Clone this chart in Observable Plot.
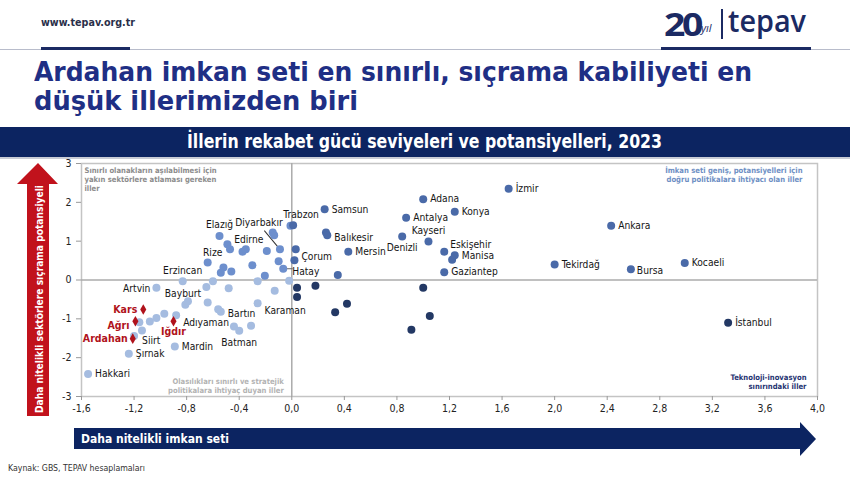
<!DOCTYPE html>
<html><head><meta charset="utf-8">
<script src="https://cdn.jsdelivr.net/npm/d3@7"></script>
<script src="https://cdn.jsdelivr.net/npm/@observablehq/plot@0.6"></script>
<style>
body{margin:0;width:850px;height:479px;position:relative;overflow:hidden;background:#fff;font-family:"DejaVu Sans Condensed","DejaVu Sans",sans-serif;}
.abs{position:absolute;white-space:nowrap;}
#chart{position:absolute;left:0;top:155px;}
#deco{position:absolute;left:0;top:0;pointer-events:none;}
</style></head><body>
<div class="abs" style="left:41px;top:17px;font-size:10px;font-weight:bold;color:#2a2f4a;" data-w="94">www.tepav.org.tr</div>
<div class="abs" style="left:0;top:49px;width:850px;height:1px;background:#b8bccb;"></div>
<div class="abs" style="left:41px;top:47px;width:89px;height:3px;background:#1b2a63;"></div>
<div class="abs" style="left:661px;top:47px;width:150px;height:3px;background:#1b2a63;"></div>
<div class="abs" style="left:664px;top:1px;font-size:33px;font-weight:bold;color:#1b2a63;letter-spacing:-3px;font-family:'Open Sans',sans-serif;" data-w="36">20</div>
<div class="abs" style="left:701px;top:20px;font-size:11px;font-style:italic;color:#1b2a63;font-family:'Open Sans',sans-serif;">yıl</div>
<div class="abs" style="left:721px;top:9px;width:1.5px;height:30px;background:#1b2a63;"></div>
<div class="abs" style="left:728px;top:0px;font-size:30px;font-weight:600;color:#1b2a63;font-family:'Open Sans',sans-serif;" data-w="78">tepav</div>
<div class="abs" id="t1" style="left:34px;top:56px;font-size:27px;font-weight:bold;color:#1f2f85;" data-w="718">Ardahan imkan seti en sınırlı, sıçrama kabiliyeti en</div>
<div class="abs" id="t2" style="left:34px;top:85px;font-size:27px;font-weight:bold;color:#1f2f85;" data-w="324">düşük illerimizden biri</div>
<div class="abs" style="left:0;top:127px;width:850px;height:30px;background:#0c2461;"></div>
<div class="abs" style="left:0;top:157px;width:850px;height:2px;background:#c9ccd6;"></div>
<div class="abs" id="bn" style="left:187px;top:130px;font-size:19px;font-weight:bold;color:#fff;" data-w="475">İllerin rekabet gücü seviyeleri ve potansiyelleri, 2023</div>
<div class="abs" style="left:8px;top:463px;font-size:9px;color:#333;" data-w="137">Kaynak: GBS, TEPAV hesaplamaları</div>
<div id="chart"></div>
<svg id="deco" width="850" height="479">
  <polygon points="38,163 17,184 27,184 27,416 49,416 49,184 58,184" fill="#c1121c"/>
  <text transform="translate(42.5,413) rotate(-90)" font-size="11" font-weight="bold" fill="#fff" textLength="228" lengthAdjust="spacingAndGlyphs">Daha nitelikli sektörlere sıçrama potansiyeli</text>
  <polygon points="74,428 800,428 800,422 816,439 800,456 800,449 74,449" fill="#0c2461"/>
  <text x="81" y="443" font-size="12" font-weight="bold" fill="#fff">Daha nitelikli imkan seti</text>
</svg>
<script>
// ---- data ----
const provinces = ["İzmir","Adana","Konya","Samsun","Antalya","Trabzon","Balıkesir","Denizli","Kayseri","Eskişehir","Manisa","Gaziantep","Mersin","Çorum","Hatay","Diyarbakır","Elazığ","Edirne","Rize","Erzincan","Artvin","Bayburt","Bartın","Karaman","Adıyaman","Batman","Mardin","Siirt","Şırnak","Hakkari","Ankara","Tekirdağ","Bursa","Kocaeli","İstanbul"];
const provinceX = [1.65,1.00,1.24,0.25,0.87,0.01,0.27,0.84,1.04,1.16,1.24,1.16,0.43,0.02,-0.065,-0.09,-0.55,-0.35,-0.64,-0.83,-1.03,-0.79,-0.54,-0.26,-0.88,-0.40,-0.89,-1.20,-1.24,-1.55,2.43,2.00,2.58,2.99,3.32];
const provinceY = [2.35,2.08,1.76,1.82,1.60,1.41,1.15,1.12,0.99,0.73,0.64,0.20,0.73,0.51,0.29,0.79,1.13,0.79,0.45,-0.03,-0.20,-0.55,-0.82,-0.60,-0.91,-1.31,-1.71,-1.44,-1.90,-2.42,1.40,0.40,0.28,0.44,-1.10];
const focusProvinces = ["Kars","Ağrı","Iğdır","Ardahan"];
const focusX = [-1.13,-1.19,-0.90,-1.21];
const focusY = [-0.76,-1.06,-1.06,-1.51];
const otherX = [-0.01,0.26,1.22,0.03,0.35, 0.04,0.04,0.18,0.42,0.33,1.00,1.05,0.91, -0.02, -0.145,-0.134,-0.49,-0.47,-0.375,-0.19,-0.52,-0.54,-0.46,-0.30,-0.10,-0.205, -0.60,-0.26,-0.65,-0.48,-0.13,-0.81,-0.64,-0.56,-1.16,-1.08,-1.03,-0.97,-1.14,-0.44,-0.31];
const otherY = [1.40,1.22,0.52,0.79,0.13, -0.20,-0.44,-0.15,-0.61,-0.83,-0.20,-0.93,-1.28, -0.02, 1.22,1.15,0.92,0.79,0.73,0.75,0.32,0.185,0.22,0.38,0.48,0.11, -0.03,-0.03,-0.18,-0.21,-0.28,-0.64,-0.58,-0.75,-1.09,-1.07,-0.98,-0.87,-1.30,-1.20,-1.18];
const xTicks = [-1.6,-1.2,-0.8,-0.4,0,0.4,0.8,1.2,1.6,2.0,2.4,2.8,3.2,3.6,4.0];
const yTicks = [-3,-2,-1,0,1,2,3];
const quadrantNotes = {
  ul: "Sınırlı olanakların aşılabilmesi için\nyakın sektörlere atlaması gereken\niller",
  ur: "İmkan seti geniş, potansiyelleri için\ndoğru politikalara ihtiyacı olan iller",
  ll: "Olasılıkları sınırlı ve stratejik\npolitikalara ihtiyaç duyan iller",
  lr: "Teknoloji-inovasyon\nsınırındaki iller"
};
// ---- label placement (style) ----
const labelPlacement = {
  "Trabzon":["middle",8,-11],"Denizli":["middle",0,11],"Kayseri":["middle",0,-11],"Eskişehir":["start",6,-7],
  "Diyarbakır":["middle",-21,-27],"Elazığ":["middle",0,-11],"Edirne":["middle",3,-10],"Rize":["middle",5,-10],
  "Erzincan":["middle",0,-10],"Artvin":["end",-6,1],"Bayburt":["middle",-5,-8],"Bartın":["start",7,2],
  "Karaman":["start",7,7],"Adıyaman":["start",7,7],"Batman":["middle",0,12],"Siirt":["start",8,5],
  "Hatay":["start",9,3],"Çorum":["start",7,-3],"Bursa":["start",6,2],"Balıkesir":["start",7,2],"Manisa":["start",7,1],
  "Kars":["end",-6,0],"Ağrı":["end",-6,4],"Ardahan":["end",-5,0],"Iğdır":["middle",0,10]
};
const FONT = '"DejaVu Sans Condensed","DejaVu Sans",sans-serif';
const quad = d => d.x >= 0 ? (d.y >= 0 ? "#4a6aa8" : "#233864") : (d.y >= 0 ? "#6d8fcd" : "#a5bce0");
const named = provinces.map((n,i)=>({name:n,x:provinceX[i],y:provinceY[i]}));
const others = otherX.map((x,i)=>({x,y:otherY[i]}));
const focus = focusProvinces.map((n,i)=>({name:n,x:focusX[i],y:focusY[i]}));
const allDots = [...others, ...named];
const line = {draw(ctx,l){ctx.moveTo(0,0);ctx.lineTo(0,-l);}};
const labelMarks = [...named.map(d=>[d,false]),...focus.map(d=>[d,true])].map(([d,isFocus])=>{
  const p = labelPlacement[d.name] || ["start",7,0];
  return Plot.text([d],{x:"x",y:"y",text:"name",textAnchor:p[0],dx:p[1],dy:p[2],
    fill:isFocus?"#b0121b":"#151515",fontWeight:isFocus?"bold":"normal",fontSize:isFocus?10.5:10.2});
});
const note = {fontSize:7.6,fontWeight:"bold",lineHeight:1.17};
const chart = Plot.plot({
  width:850,height:270,marginTop:8,marginRight:33,marginBottom:29,marginLeft:81,
  style:{fontFamily:FONT,fontSize:"10.5px",background:"transparent",color:"#111"},
  x:{domain:[-1.6,4]},
  y:{domain:[-3,3]},
  marks:[
    Plot.frame({stroke:"#c4c4c4",strokeWidth:1.5}),
    Plot.ruleX([0],{stroke:"#ababab",strokeWidth:1.5}),
    Plot.ruleY([0],{stroke:"#ababab",strokeWidth:1.5}),
    Plot.axisX({ticks:xTicks,tickFormat:d=>d.toFixed(1).replace(".",","),tickSize:4,tickPadding:4,stroke:"#999",fill:"#222",label:null}),
    Plot.axisY({ticks:yTicks,tickFormat:d=>String(d),tickSize:5,tickPadding:5,stroke:"#999",fill:"#222",label:null}),
    Plot.text([quadrantNotes.ul],{frameAnchor:"top-left",text:d=>d,textAnchor:"start",lineAnchor:"top",dx:3,dy:3,fill:"#8c8c8c",...note}),
    Plot.text([quadrantNotes.ur],{frameAnchor:"top-right",text:d=>d,textAnchor:"end",lineAnchor:"top",dx:-15,dy:3,fill:"#6e8fc4",...note}),
    Plot.text([quadrantNotes.ll],{x:[0],frameAnchor:"bottom",text:()=>quadrantNotes.ll,textAnchor:"end",lineAnchor:"bottom",dx:-8,dy:-4,fill:"#b3b3b3",...note}),
    Plot.text([quadrantNotes.lr],{frameAnchor:"bottom-right",text:d=>d,textAnchor:"end",lineAnchor:"bottom",dx:-11,dy:-8,fill:"#1f3372",...note}),
    Plot.vector(named.filter(d=>d.name==="Diyarbakır"),{x:"x",y:"y",length:24,rotate:-40,anchor:"start",shape:line,stroke:"#333",strokeWidth:1}),
    Plot.vector(named.filter(d=>d.name==="Hatay"),{x:"x",y:"y",length:9,rotate:90,anchor:"start",shape:line,stroke:"#666",strokeWidth:1}),
    Plot.dot(allDots,{x:"x",y:"y",r:4,fill:quad,stroke:null}),
    Plot.dot(focus,{x:"x",y:"y",r:3.2,symbol:"diamond",fill:"#b0121b"}),
    ...labelMarks
  ]
});
document.getElementById("chart").append(chart);
document.querySelectorAll("[data-w]").forEach(el=>{
  const w = el.getBoundingClientRect().width, t = +el.dataset.w;
  el.style.transformOrigin = "left top";
  el.style.transform = `scaleX(${t/w})`;
});
</script>
</body></html>
